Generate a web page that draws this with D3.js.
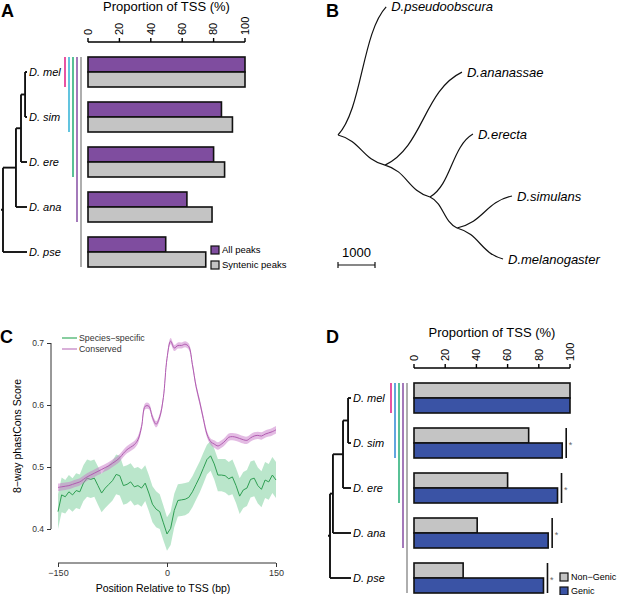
<!DOCTYPE html>
<html>
<head>
<meta charset="utf-8">
<script src="https://cdn.jsdelivr.net/npm/d3@7"></script>
<style>
  body { margin: 0; background: #fff; }
  svg { font-family: "Liberation Sans", Arial, sans-serif; }
</style>
</head>
<body>
<svg id="fig" width="617" height="595"></svg>
<script>
// ---- data ----
const species = ['D. mel', 'D. sim', 'D. ere', 'D. ana', 'D. pse'];
const allPeaks = [100, 85, 80, 63, 49.5];
const syntenicPeaks = [100, 92, 87, 79, 75];
const nonGenic = [100, 73.5, 60, 40.5, 31.5];
const genic = [100, 95, 92, 86, 83];
const signif = [false, true, true, true, true];
const pctTicks = [0, 20, 40, 60, 80, 100];
const cladeColors = ['#e2288c', '#3bb6d8', '#2fb27c', '#8d58a9', '#9a9a9a'];
const cladeColorsD = ['#e2288c', '#3a8fd6', '#2fb27c', '#8d58a9', '#9a9a9a'];

// cladograms (node depth 0 = root, 1 = tips)
const treeA = { d: 0, children: [
  { d: 0.54, children: [
    { d: 0.75, children: [
      { d: 0.92, children: [{ name: 'D. mel', d: 1 }, { name: 'D. sim', d: 1 }] },
      { name: 'D. ere', d: 1 }] },
    { name: 'D. ana', d: 1 }] },
  { name: 'D. pse', d: 1 }] };
const treeD = { d: 0, children: [
  { d: 0.14, children: [
    { d: 0.62, children: [
      { d: 0.86, children: [{ name: 'D. mel', d: 1 }, { name: 'D. sim', d: 1 }] },
      { name: 'D. ere', d: 1 }] },
    { name: 'D. ana', d: 1 }] },
  { name: 'D. pse', d: 1 }] };

// phylogram B: branch length (tree units) and drawing angle (deg)
const branches = [
  { id: 'pse', parent: 'root', len: 3700, angle: -69.4, label: 'D.pseudoobscura' },
  { id: 'n1', parent: 'root', len: 1510, angle: 32.6 },
  { id: 'ana', parent: 'n1', len: 3260, angle: -50.4, label: 'D.ananassae' },
  { id: 'n2', parent: 'n1', len: 1490, angle: 35.4 },
  { id: 'ere', parent: 'n2', len: 2060, angle: -55.7, label: 'D.erecta' },
  { id: 'n3', parent: 'n2', len: 1110, angle: 48.9 },
  { id: 'sim', parent: 'n3', len: 1720, angle: -30.2, label: 'D.simulans' },
  { id: 'mel', parent: 'n3', len: 1500, angle: 34.0, label: 'D.melanogaster' }
];
const scaleBarLen = 1000;

// panel C: phastCons profile around TSS
const posBp = [-150, -145, -140, -135, -130, -125, -120, -115, -110, -105, -100,
  -95, -90, -85, -80, -75, -70, -65, -60, -55, -50, -45, -40,
  -35, -30, -25, -20, -15, -10, -5, 0, 5, 10,
  15, 20, 25, 30, 35, 40, 45, 50, 55, 60,
  65, 70, 75, 80, 85, 90, 95, 100, 105, 110, 115, 120, 125, 130, 135, 140, 145, 150];
const conserved = [0.467, 0.468, 0.469, 0.470, 0.472, 0.474, 0.476, 0.480, 0.484, 0.487, 0.490,
  0.493, 0.496, 0.499, 0.502, 0.506, 0.510, 0.515, 0.522, 0.528, 0.532, 0.536, 0.544,
  0.565, 0.598, 0.598, 0.580, 0.569, 0.581, 0.612, 0.675, 0.703, 0.692,
  0.696, 0.696, 0.698, 0.694, 0.665, 0.630, 0.605, 0.578, 0.553, 0.541,
  0.537, 0.534, 0.537, 0.542, 0.548, 0.549, 0.548, 0.546, 0.544, 0.543, 0.547, 0.550, 0.551, 0.550, 0.553, 0.555, 0.557, 0.560];
const conservedSE = [0.006, 0.006, 0.006, 0.006, 0.006, 0.006, 0.006, 0.006, 0.006, 0.006, 0.006,
  0.006, 0.006, 0.006, 0.006, 0.006, 0.006, 0.006, 0.006, 0.006, 0.006, 0.006, 0.006,
  0.005, 0.005, 0.005, 0.005, 0.005, 0.005, 0.005, 0.005, 0.005, 0.005,
  0.005, 0.005, 0.005, 0.005, 0.005, 0.005, 0.005, 0.005, 0.005, 0.005,
  0.006, 0.006, 0.006, 0.006, 0.006, 0.006, 0.006, 0.006, 0.006, 0.006, 0.006, 0.006, 0.006, 0.006, 0.006, 0.006, 0.006, 0.006];
const speciesSpecific = [0.428, 0.455, 0.452, 0.460, 0.455, 0.462, 0.460, 0.474, 0.482, 0.480, 0.482,
  0.470, 0.458, 0.466, 0.472, 0.478, 0.488, 0.486, 0.470, 0.472, 0.476, 0.468, 0.470,
  0.466, 0.474, 0.458, 0.440, 0.432, 0.428, 0.410, 0.392, 0.401, 0.430,
  0.446, 0.447, 0.448, 0.451, 0.460, 0.472, 0.484, 0.498, 0.512, 0.518,
  0.505, 0.487, 0.487, 0.486, 0.481, 0.484, 0.470, 0.453, 0.463, 0.466, 0.480, 0.482, 0.470, 0.464, 0.479, 0.476, 0.487, 0.479];
const speciesSE = [0.028, 0.028, 0.027, 0.027, 0.027, 0.028, 0.028, 0.029, 0.030, 0.030, 0.030,
  0.031, 0.031, 0.032, 0.032, 0.032, 0.032, 0.032, 0.031, 0.031, 0.030, 0.030, 0.030,
  0.030, 0.029, 0.029, 0.029, 0.029, 0.028, 0.028, 0.027, 0.027, 0.027,
  0.026, 0.026, 0.026, 0.025, 0.025, 0.025, 0.025, 0.025, 0.024, 0.024,
  0.025, 0.026, 0.026, 0.027, 0.027, 0.028, 0.028, 0.029, 0.029, 0.029, 0.029, 0.029, 0.029, 0.029, 0.029, 0.029, 0.029, 0.029];
const bpTicks = [-150, 0, 150];
const scoreTicks = [0.4, 0.5, 0.6, 0.7];

const svg = d3.select('#fig');

// panel letters
[['A', 1, 17], ['B', 326, 17], ['C', 0, 343], ['D', 326, 343]].forEach(function (p) {
  svg.append('text').attr('x', p[1]).attr('y', p[2])
    .attr('font-size', 18).attr('font-weight', 'bold').text(p[0]);
});

// ---- bar panels A & D ----
function barPanel(o) {
  const g = svg.append('g');
  const x = d3.scaleLinear().domain([0, 100]).range([o.x0, o.x1]);
  const y = d3.scaleBand().domain(species).range([o.top, o.top + 210]).paddingInner(1 / 3);
  const h = y.bandwidth() / 2;

  g.append('text').attr('x', (o.x0 + o.x1) / 2).attr('y', o.top - 46)
    .attr('text-anchor', 'middle').attr('font-size', 13).text('Proportion of TSS (%)');

  // top axis, R style
  const ay = o.top - 15;
  g.append('line').attr('x1', x(0)).attr('x2', x(100)).attr('y1', ay).attr('y2', ay)
    .attr('stroke', '#000').attr('stroke-width', 1.4);
  g.selectAll('.tk').data(pctTicks).enter().append('line')
    .attr('x1', x).attr('x2', x).attr('y1', ay).attr('y2', ay - 4)
    .attr('stroke', '#000').attr('stroke-width', 1.4);
  g.selectAll('.tl').data(pctTicks).enter().append('text')
    .attr('transform', function (d) { return 'translate(' + x(d) + ',' + (ay - 7) + ') rotate(-90)'; })
    .attr('dy', '0.35em').attr('font-size', 11).text(function (d) { return d; });

  // bars
  [o.s1, o.s2].forEach(function (vals, k) {
    g.selectAll('.b' + k).data(species).enter().append('rect')
      .attr('x', x(0)).attr('y', function (d) { return y(d) + k * h; })
      .attr('width', function (d, i) { return x(vals[i]) - x(0); })
      .attr('height', h)
      .attr('fill', o.colors[k]).attr('stroke', '#111').attr('stroke-width', 1.6);
  });

  // clade lines
  species.forEach(function (s, i) {
    const lx = x(0) - 23 + i * 4;
    g.append('line').attr('x1', lx).attr('x2', lx)
      .attr('y1', y(species[0])).attr('y2', y(s) + y.bandwidth())
      .attr('stroke', o.cladeColors[i]).attr('stroke-width', 1.6);
  });

  // cladogram
  const tx = d3.scaleLinear().domain([0, 1]).range(o.treeRange);
  const root = d3.hierarchy(o.tree);
  root.eachAfter(function (n) {
    n.py = n.children ? d3.mean(n.children, function (c) { return c.py; }) : y(n.data.name) + h;
    n.px = tx(n.data.d);
  });
  const tg = g.append('g').attr('stroke', '#111').attr('stroke-width', 1.9).attr('fill', 'none');
  root.each(function (n) {
    if (n.children) {
      tg.append('line').attr('x1', n.px).attr('x2', n.px)
        .attr('y1', n.children[0].py).attr('y2', n.children[n.children.length - 1].py);
    }
    const px0 = n.parent ? n.parent.px : n.px - 2;
    tg.append('line').attr('x1', px0).attr('x2', n.px).attr('y1', n.py).attr('y2', n.py);
  });
  root.leaves().forEach(function (n) {
    g.append('text').attr('x', n.px + 2).attr('y', n.py).attr('dy', '0.35em')
      .attr('font-size', 11).attr('font-style', 'italic').text(n.data.name);
  });

  // significance marks
  if (o.signif) {
    species.forEach(function (s, i) {
      if (!o.signif[i]) return;
      const sx = x(Math.max(o.s1[i], o.s2[i])) + 4;
      g.append('line').attr('x1', sx).attr('x2', sx).attr('y1', y(s)).attr('y2', y(s) + y.bandwidth())
        .attr('stroke', '#111').attr('stroke-width', 1.6);
      g.append('text').attr('x', sx + 2.5).attr('y', y(s) + h + 5)
        .attr('font-size', 9).attr('fill', '#666').text('*');
    });
  }

  // legend
  o.legend.forEach(function (l, i) {
    const ly = o.legendXY[1] + i * o.legendStep;
    g.append('rect').attr('x', o.legendXY[0]).attr('y', ly).attr('width', 8).attr('height', 8)
      .attr('fill', o.colors[l.k]).attr('stroke', '#111').attr('stroke-width', 1.2);
    g.append('text').attr('x', o.legendXY[0] + 11).attr('y', ly + 4).attr('dy', '0.35em')
      .attr('font-size', o.legendFont).text(l.label);
  });
}

barPanel({
  x0: 88, x1: 245, top: 57, s1: allPeaks, s2: syntenicPeaks,
  colors: ['#7f4d9f', '#c4c4c4'], cladeColors: cladeColors,
  tree: treeA, treeRange: [3, 27],
  legend: [{ k: 0, label: 'All peaks' }, { k: 1, label: 'Syntenic peaks' }],
  legendXY: [211, 246], legendStep: 15, legendFont: 9.5
});
barPanel({
  x0: 414, x1: 570, top: 383, s1: nonGenic, s2: genic,
  colors: ['#c4c4c4', '#3a53a5'], cladeColors: cladeColorsD,
  tree: treeD, treeRange: [330, 351], signif: signif,
  legend: [{ k: 0, label: 'Non\u2212Genic' }, { k: 1, label: 'Genic' }],
  legendXY: [560, 573], legendStep: 14, legendFont: 9
});

// ---- panel B: phylogram ----
(function () {
  const g = svg.append('g');
  const len = d3.scaleLinear().domain([0, 1000]).range([0, 37]);
  const pos = { root: [338, 135] };
  const path = d3.path();
  branches.forEach(function (b) {
    const p = pos[b.parent];
    const a = b.angle * Math.PI / 180;
    const c = [p[0] + len(b.len) * Math.cos(a), p[1] + len(b.len) * Math.sin(a)];
    pos[b.id] = c;
    const dx = c[0] - p[0], dy = c[1] - p[1];
    path.moveTo(p[0], p[1]);
    path.bezierCurveTo(p[0] + dx * 0.5, p[1] + dy * 0.2, p[0] + dx * 0.5, c[1] - dy * 0.2, c[0], c[1]);
    if (b.label) {
      g.append('text').attr('x', c[0] + 5).attr('y', c[1]).attr('dy', '0.35em')
        .attr('font-size', 13).attr('font-style', 'italic').text(b.label);
    }
  });
  g.append('path').attr('d', path.toString()).attr('fill', 'none')
    .attr('stroke', '#111').attr('stroke-width', 1.2);

  // scale bar
  const sx0 = 338, sx1 = sx0 + len(scaleBarLen), sy = 265;
  g.append('path').attr('d', 'M' + sx0 + ',' + (sy - 3) + 'V' + (sy + 3) + 'M' + sx0 + ',' + sy + 'H' + sx1 +
    'M' + sx1 + ',' + (sy - 3) + 'V' + (sy + 3)).attr('stroke', '#111').attr('stroke-width', 1.2).attr('fill', 'none');
  g.append('text').attr('x', (sx0 + sx1) / 2).attr('y', 257).attr('text-anchor', 'middle')
    .attr('font-size', 13).text(scaleBarLen);
})();

// ---- panel C: phastCons profile ----
(function () {
  const g = svg.append('g');
  const x = d3.scaleLinear().domain([-150, 150]).range([58, 276]);
  const y = d3.scaleLinear().domain([0.4, 0.7]).range([529, 343]);

  function series(vals, se, bandColor, lineColor, curve) {
    const idx = d3.range(posBp.length);
    g.append('path').datum(idx)
      .attr('d', d3.area().curve(curve)
        .x(function (i) { return x(posBp[i]); })
        .y0(function (i) { return y(vals[i] - se[i]); })
        .y1(function (i) { return y(vals[i] + se[i]); }))
      .attr('fill', bandColor);
    g.append('path').datum(idx)
      .attr('d', d3.line().curve(curve)
        .x(function (i) { return x(posBp[i]); })
        .y(function (i) { return y(vals[i]); }))
      .attr('fill', 'none').attr('stroke', lineColor).attr('stroke-width', 1);
  }
  series(speciesSpecific, speciesSE, 'rgba(90,195,130,0.42)', '#2e9e52', d3.curveLinear);
  series(conserved, conservedSE, 'rgba(200,120,200,0.5)', '#b05cb0', d3.curveCatmullRom);

  // axes, R style (detached)
  g.append('g').attr('transform', 'translate(51,0)')
    .call(d3.axisLeft(y).tickValues(scoreTicks).tickSize(4).tickPadding(3).tickFormat(d3.format('.1f')))
    .call(function (a) {
      a.select('.domain').attr('d', 'M0,' + y(0.4) + 'V' + y(0.7)).attr('stroke', '#333');
      a.selectAll('line').attr('stroke', '#333');
      a.selectAll('text').attr('font-size', 8.5).attr('fill', '#333').attr('font-family', null);
    });
  g.append('g').attr('transform', 'translate(0,563)')
    .call(d3.axisBottom(x).tickValues(bpTicks).tickSize(4).tickPadding(3)
      .tickFormat(function (d) { return d < 0 ? '\u2212' + (-d) : d; }))
    .call(function (a) {
      a.select('.domain').attr('d', 'M' + x(-150) + ',0H' + x(150)).attr('stroke', '#333');
      a.selectAll('line').attr('stroke', '#333');
      a.selectAll('text').attr('font-size', 9).attr('fill', '#333').attr('font-family', null);
    });
  g.append('text').attr('x', 163).attr('y', 592).attr('text-anchor', 'middle')
    .attr('font-size', 10.5).text('Position Relative to TSS (bp)');
  g.append('text').attr('transform', 'translate(21,436) rotate(-90)').attr('text-anchor', 'middle')
    .attr('font-size', 10.5).text('8\u2212way phastCons Score');

  // legend
  [['Species\u2212specific', '#3aae62'], ['Conserved', '#c07cc0']].forEach(function (l, i) {
    const ly = 338 + i * 11;
    g.append('line').attr('x1', 62).attr('x2', 77).attr('y1', ly).attr('y2', ly)
      .attr('stroke', l[1]).attr('stroke-width', 1.2);
    g.append('text').attr('x', 79).attr('y', ly).attr('dy', '0.35em')
      .attr('font-size', 8.8).attr('fill', '#333').text(l[0]);
  });
})();
</script>
</body>
</html>
